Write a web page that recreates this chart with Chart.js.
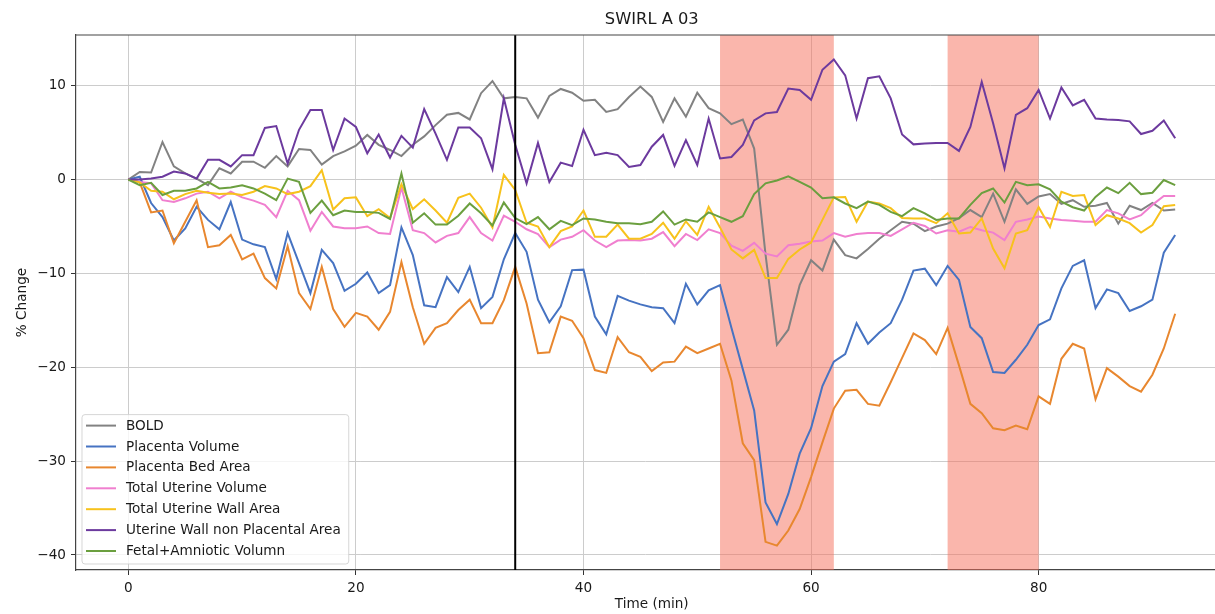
<!DOCTYPE html>
<html>
<head>
<meta charset="utf-8">
<title>SWIRL A 03</title>
<script src="https://cdn.jsdelivr.net/npm/chart.js@4.4.1/dist/chart.umd.min.js"></script>
<style>
  html, body { margin: 0; padding: 0; background: #fff; }
  #chart-wrap { width: 1215px; height: 614px; }
  canvas { display: block; }
</style>
</head>
<body>
<div id="chart-wrap"><canvas id="swirl-chart" width="1215" height="614"></canvas></div>
<script>
// time axis (minutes) and the % change series
const minutes = [
  0, 1, 2, 3, 4, 5, 6, 7, 8, 9, 10, 11, 12, 13, 14, 15, 16, 17, 18, 19,
  20, 21, 22, 23, 24, 25, 26, 27, 28, 29, 30, 31, 32, 33, 34, 35, 36, 37, 38, 39,
  40, 41, 42, 43, 44, 45, 46, 47, 48, 49, 50, 51, 52, 53, 54, 55, 56, 57, 58, 59,
  60, 61, 62, 63, 64, 65, 66, 67, 68, 69, 70, 71, 72, 73, 74, 75, 76, 77, 78, 79,
  80, 81, 82, 83, 84, 85, 86, 87, 88, 89, 90, 91, 92
];

const bold = [
  0, 0.8, 0.75, 4.0, 1.4, 0.65, 0.1, -0.6, 1.2, 0.65,
  1.9, 1.9, 1.25, 2.5, 1.4, 3.25, 3.15, 1.6, 2.5, 3.0,
  3.6, 4.75, 3.7, 3.15, 2.5, 3.7, 4.6, 5.8, 6.9, 7.1,
  6.4, 9.2, 10.5, 8.65, 8.8, 8.65, 6.6, 8.9, 9.65, 9.25,
  8.4, 8.5, 7.2, 7.5, 8.8, 9.9, 8.8, 6.15, 8.65, 6.7,
  9.25, 7.6, 7.05, 5.9, 6.4, 3.3, -8.0, -17.6, -16.0, -11.25,
  -8.6, -9.7, -6.4, -8.05, -8.4, -7.4, -6.3, -5.4, -4.5, -4.7,
  -5.5, -5.0, -4.7, -4.1, -3.25, -4.0, -1.5, -4.5, -1.05, -2.6,
  -1.8, -1.55, -2.6, -2.2, -2.9, -2.8, -2.5, -4.7, -2.8, -3.25,
  -2.5, -3.3, -3.2
];

const placentaVolume = [
  0, 0.3, -2.5, -4.0, -6.5, -5.2, -2.9, -4.3, -5.3, -2.4,
  -6.4, -6.9, -7.2, -10.6, -5.7, -8.9, -12.1, -7.5, -8.9, -11.85,
  -11.1, -9.9, -12.1, -11.25, -5.1, -8.05, -13.4, -13.6, -10.4, -12.0,
  -9.3, -13.7, -12.5, -8.5, -5.7, -7.7, -12.8, -15.2, -13.5, -9.65,
  -9.6, -14.6, -16.5, -12.4, -12.9, -13.3, -13.6, -13.7, -15.3, -11.1,
  -13.3, -11.8, -11.25, -15.8, -20.2, -24.6, -34.4, -36.7, -33.5, -29.2,
  -26.5, -22.0, -19.4, -18.6, -15.3, -17.5, -16.3, -15.3, -12.8, -9.7,
  -9.5, -11.25, -9.2, -10.7, -15.7, -16.9, -20.5, -20.6, -19.2, -17.6,
  -15.5, -14.9, -11.6, -9.2, -8.6, -13.7, -11.7, -12.1, -14.0, -13.5,
  -12.8, -7.8, -5.9
];

const placentaBedArea = [
  0, -0.3, -3.5, -3.3, -6.8, -4.5, -2.2, -7.2, -7.0, -5.9,
  -8.5, -7.9, -10.5, -11.6, -7.1, -12.1, -13.8, -9.3, -13.8, -15.7,
  -14.2, -14.6, -16.0, -14.1, -8.8, -13.6, -17.5, -15.8, -15.3, -13.9,
  -12.8, -15.3, -15.3, -12.85, -9.3, -13.2, -18.5, -18.4, -14.6, -15.05,
  -16.9, -20.3, -20.6, -16.8, -18.4, -18.9, -20.4, -19.5, -19.4, -17.8,
  -18.5, -18.0, -17.5, -21.4, -28.1, -29.9, -38.6, -39.0, -37.4, -35.1,
  -31.7, -28.0, -24.4, -22.5, -22.4, -23.9, -24.1, -21.6, -19.0, -16.4,
  -17.1, -18.6, -15.8, -19.8, -23.9, -24.9, -26.5, -26.7, -26.2, -26.6,
  -23.1, -23.9, -19.1, -17.5, -18.0, -23.4, -20.1, -21.0, -22.0, -22.6,
  -20.8, -18.0, -14.3
];

const totalUterineVolume = [
  0, -0.25, -0.4, -2.2, -2.4, -2.0, -1.5, -1.3, -2.0, -1.3,
  -1.9, -2.25, -2.7, -4.0, -1.2, -2.2, -5.45, -3.45, -5.0, -5.2,
  -5.2, -5.0, -5.7, -5.8, -0.85, -5.4, -5.7, -6.7, -6.0, -5.7,
  -4.0, -5.7, -6.5, -3.85, -4.5, -5.3, -5.8, -7.2, -6.4, -6.1,
  -5.4, -6.5, -7.2, -6.5, -6.45, -6.5, -6.3, -5.6, -7.1, -5.8,
  -6.45, -5.3, -5.7, -7.05, -7.6, -6.75, -7.9, -8.2, -7.0, -6.85,
  -6.6, -6.5, -5.7, -6.1, -5.8, -5.7, -5.7, -6.0, -5.3, -4.6,
  -4.95, -5.75, -5.4, -5.55, -5.05, -5.4, -5.65, -6.45, -4.5, -4.25,
  -3.95, -4.15, -4.3, -4.4, -4.5, -4.5, -3.25, -3.6, -4.25, -3.8,
  -2.7, -1.75, -1.75
];

const totalUterineWallArea = [
  0, -0.3, -1.2, -1.3, -2.1, -1.55, -1.2, -1.4, -1.55, -1.5,
  -1.65, -1.3, -0.7, -0.95, -1.55, -1.3, -0.7, 1.0, -3.2, -2.0,
  -1.9, -3.9, -3.15, -4.1, -0.5, -3.15, -2.1, -3.3, -4.6, -1.95,
  -1.5, -3.0, -5.1, 0.5, -1.1, -4.6, -5.0, -7.2, -5.5, -5.0,
  -3.3, -6.1, -6.1, -4.8, -6.3, -6.3, -5.8, -4.6, -6.3, -4.45,
  -5.9, -2.9, -5.1, -7.45, -8.4, -7.5, -10.5, -10.5, -8.45, -7.45,
  -6.7, -4.3, -1.9, -1.85, -4.5, -2.35, -2.55, -3.05, -4.1, -4.15,
  -4.15, -4.65, -3.6, -5.75, -5.65, -4.15, -7.35, -9.45, -5.75, -5.4,
  -2.95, -5.05, -1.3, -1.75, -1.65, -4.85, -3.8, -4.15, -4.65, -5.65,
  -4.85, -2.85, -2.7
];

const uterineWallNonPlacental = [
  0, 0.0, 0.1, 0.3, 0.85, 0.65, 0.1, 2.1, 2.1, 1.4,
  2.6, 2.6, 5.5, 5.7, 1.7, 5.3, 7.4, 7.4, 3.15, 6.5,
  5.6, 2.8, 4.8, 2.35, 4.65, 3.4, 7.5, 4.9, 2.1, 5.55,
  5.55, 4.4, 1.1, 8.65, 3.7, -0.4, 3.9, -0.25, 1.8, 1.45,
  5.3, 2.6, 2.85, 2.6, 1.35, 1.55, 3.5, 4.75, 1.45, 4.2,
  1.55, 6.5, 2.25, 2.4, 3.7, 6.3, 7.05, 7.2, 9.7, 9.55,
  8.5, 11.7, 12.8, 11.1, 6.5, 10.8, 11.0, 8.65, 4.8, 3.75,
  3.85, 3.9, 3.9, 3.05, 5.6, 10.4, 6.0, 1.2, 6.9, 7.6,
  9.55, 6.5, 9.8, 7.9, 8.5, 6.5, 6.4, 6.35, 6.2, 4.85,
  5.2, 6.3, 4.4
];

const fetalAmniotic = [
  0, -0.6, -0.35, -1.65, -1.2, -1.2, -0.95, -0.25, -0.95, -0.85,
  -0.6, -0.95, -1.5, -2.2, 0.1, -0.25, -3.55, -2.25, -3.8, -3.3,
  -3.45, -3.45, -3.55, -4.2, 0.65, -4.6, -3.6, -4.8, -4.8, -3.85,
  -2.55, -3.6, -4.9, -2.45, -4.1, -4.75, -4.0, -5.3, -4.4, -4.85,
  -4.15, -4.25, -4.5, -4.65, -4.65, -4.75, -4.5, -3.4, -4.8, -4.25,
  -4.5, -3.5, -4.0, -4.5, -3.9, -1.55, -0.4, -0.1, 0.35, -0.25,
  -0.85, -2.0, -1.9, -2.55, -3.05, -2.35, -2.7, -3.45, -3.9, -3.05,
  -3.6, -4.3, -4.15, -4.15, -2.7, -1.45, -0.95, -2.45, -0.25, -0.6,
  -0.5, -1.05, -2.35, -2.95, -3.3, -1.85, -0.85, -1.45, -0.35, -1.55,
  -1.4, -0.05, -0.6
];

const seriesNames = [
  'BOLD', 'Placenta Volume', 'Placenta Bed Area', 'Total Uterine Volume',
  'Total Uterine Wall Area', 'Uterine Wall non Placental Area', 'Fetal+Amniotic Volumn'
];
const seriesValues = [
  bold, placentaVolume, placentaBedArea, totalUterineVolume,
  totalUterineWallArea, uterineWallNonPlacental, fetalAmniotic
];
const seriesColors = ['#828282', '#4673c2', '#e8872f', '#f07fcf', '#f7c21c', '#6c3a9e', '#6b9f3f'];

const xTicks = [0, 20, 40, 60, 80];
const yTicks = [-40, -30, -20, -10, 0, 10];

// contraction windows and the marker, in minutes
const stimSpans = [[52, 62], [72, 80]];
const markerMinute = 34;

const FONT = "'DejaVu Sans', 'Liberation Sans', sans-serif";
const X_MIN = -4.6, X_MAX = 95.5, X_FULL_MAX = 96.6;

const fmtTick = v => (v < 0 ? '\u2212' + Math.abs(v) : String(v));

const decor = {
  id: 'decor',
  beforeDatasetsDraw(chart) {
    const { ctx, chartArea: a, scales: { x } } = chart;
    ctx.save();
    ctx.fillStyle = 'rgba(246, 110, 90, 0.5)';
    stimSpans.forEach(([s, e]) => {
      const x0 = x.getPixelForValue(s), x1 = x.getPixelForValue(e);
      ctx.fillRect(x0, a.top, x1 - x0, a.bottom - a.top);
    });
    ctx.restore();
  },
  afterDatasetsDraw(chart) {
    const { ctx, chartArea: a, scales: { x } } = chart;
    ctx.save();

    // marker line
    const mx = x.getPixelForValue(markerMinute);
    ctx.strokeStyle = '#000';
    ctx.lineWidth = 2;
    ctx.beginPath();
    ctx.moveTo(mx, a.top);
    ctx.lineTo(mx, a.bottom);
    ctx.stroke();

    // top spine
    ctx.strokeStyle = '#444';
    ctx.lineWidth = 1.2;
    ctx.beginPath();
    ctx.moveTo(a.left, a.top);
    ctx.lineTo(a.right, a.top);
    ctx.stroke();

    // legend, lower left
    ctx.font = '13.6px ' + FONT;
    const rowH = 20.9;
    const textW = Math.max(...seriesNames.map(n => ctx.measureText(n).width));
    const boxL = a.left + 6, boxW = 44 + textW + 8;
    const boxH = 11 + rowH * (seriesNames.length - 1) + 13;
    const boxT = a.bottom - 6 - boxH;
    ctx.fillStyle = 'rgba(255,255,255,0.8)';
    ctx.strokeStyle = 'rgba(204,204,204,0.8)';
    ctx.lineWidth = 1;
    ctx.beginPath();
    ctx.roundRect(boxL, boxT, boxW, boxH, 3);
    ctx.fill();
    ctx.stroke();
    ctx.textBaseline = 'middle';
    ctx.textAlign = 'left';
    seriesNames.forEach((name, i) => {
      const cy = boxT + 11 + i * rowH;
      ctx.strokeStyle = seriesColors[i];
      ctx.lineWidth = 2;
      ctx.beginPath();
      ctx.moveTo(boxL + 4, cy);
      ctx.lineTo(boxL + 34, cy);
      ctx.stroke();
      ctx.fillStyle = '#1a1a1a';
      ctx.fillText(name, boxL + 44, cy + 0.5);
    });

    // title and axis labels, centred on the full (uncropped) axes
    const cx = (a.left + x.getPixelForValue(X_FULL_MAX)) / 2;
    ctx.fillStyle = '#1a1a1a';
    ctx.textAlign = 'center';
    ctx.font = '16.3px ' + FONT;
    ctx.fillText('SWIRL A 03', cx, 20);
    ctx.font = '13.6px ' + FONT;
    ctx.fillText('Time (min)', cx, 604);
    ctx.translate(22, (a.top + a.bottom) / 2);
    ctx.rotate(-Math.PI / 2);
    ctx.fillText('% Change', 0, 0);
    ctx.restore();
  }
};

const datasets = seriesValues.map((vals, i) => ({
  label: seriesNames[i],
  data: minutes.map((m, j) => ({ x: m, y: vals[j] })),
  borderColor: seriesColors[i],
  backgroundColor: seriesColors[i],
  borderWidth: 2,
  pointRadius: 0,
  tension: 0,
  fill: false,
  order: seriesValues.length - i
}));

const gridStyle = { color: '#cccccc', lineWidth: 1, tickLength: 5, tickColor: '#333', tickWidth: 1 };

new Chart(document.getElementById('swirl-chart'), {
  type: 'line',
  data: { datasets },
  options: {
    responsive: false,
    animation: false,
    events: [],
    layout: { padding: { top: 35, left: 0, right: 0, bottom: 0 } },
    plugins: { legend: { display: false }, title: { display: false }, tooltip: { enabled: false } },
    scales: {
      x: {
        type: 'linear',
        min: X_MIN,
        max: X_MAX,
        afterBuildTicks: s => { s.ticks = xTicks.map(v => ({ value: v })); },
        afterFit: s => { s.height = 44; },
        ticks: { callback: fmtTick, padding: 5, autoSkip: false, maxRotation: 0,
                 color: '#1a1a1a', font: { family: FONT, size: 13.6 } },
        grid: gridStyle,
        border: { color: '#444', width: 1.2 }
      },
      y: {
        min: -41.6,
        max: 15.4,
        afterBuildTicks: s => { s.ticks = yTicks.map(v => ({ value: v })); },
        afterFit: s => { s.width = 76; },
        ticks: { callback: fmtTick, padding: 5, color: '#1a1a1a', font: { family: FONT, size: 13.6 } },
        grid: gridStyle,
        border: { color: '#444', width: 1.2 }
      }
    }
  },
  plugins: [decor]
});
</script>
</body>
</html>
